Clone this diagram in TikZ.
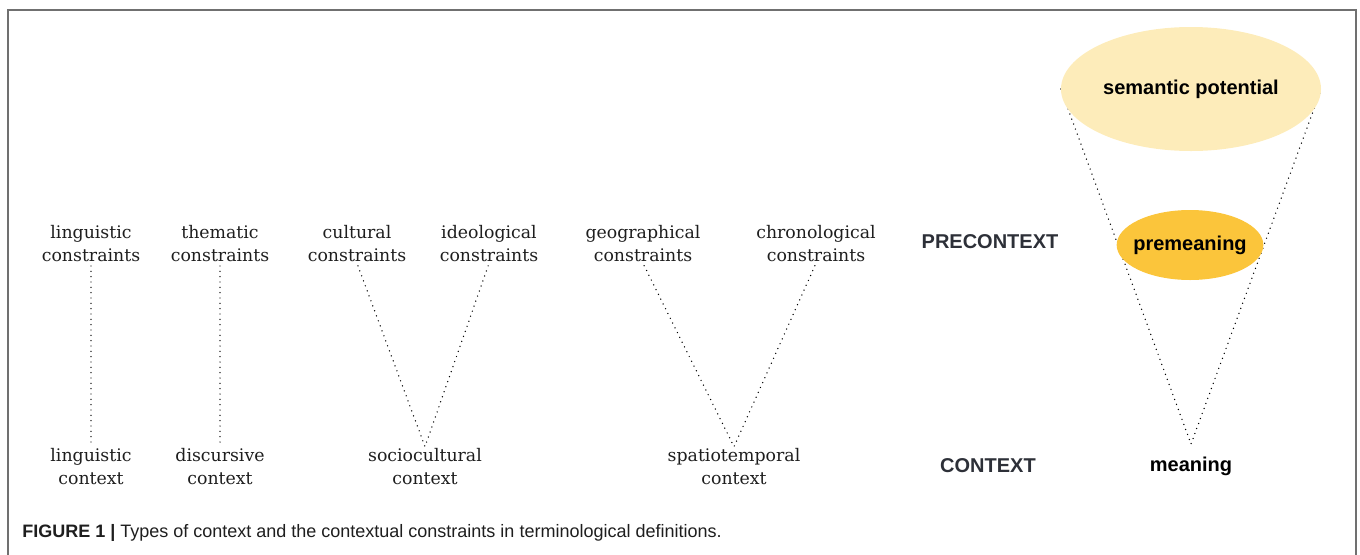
\documentclass[tikz,border=0pt]{standalone}
\usepackage{fontspec}
\setmainfont{DejaVu Serif}
\setsansfont{Liberation Sans}
\usetikzlibrary{positioning,shapes.geometric,backgrounds}
\definecolor{potfill}{HTML}{FDECBA}
\definecolor{prefill}{HTML}{FBC53B}
\definecolor{capsgray}{HTML}{2D3038}
\definecolor{framegray}{HTML}{707070}
\definecolor{inkgray}{HTML}{1E1E1E}
\tikzset{
    term/.style={align=center, text=inkgray, inner sep=1pt, font=\fontsize{13}{17.3}\selectfont},
    level/.style={text=capsgray, font=\sffamily\bfseries\fontsize{15}{18}\selectfont},
    blob/.style={ellipse, draw=none, inner xsep=-4pt, inner ysep=0pt, font=\sffamily\bfseries\fontsize{15}{18}\selectfont},
    link/.style={line width=1.1pt, line cap=round, dash pattern=on 0pt off 4pt, shorten <=2pt}
}

\begin{document}
\begin{tikzpicture}[x=0.75pt, y=-0.75pt]
			\useasboundingbox (0,0) rectangle (1360,554);
			\draw[framegray, line width=1.5pt] (8,560) -- (8,10) -- (1356,10) -- (1356,560);

			% upper row: constraints
			\node[term] (lin) at (91,243.5) {linguistic\\constraints};
			\node[term] (the) at (220,243.5) {thematic\\constraints};
			\node[term] (cul) at (357,243.5) {cultural\\constraints};
			\node[term] (ide) at (489,243.5) {ideological\\constraints};
			\node[term] (geo) at (643,243.5) {geographical\\constraints};
			\node[term] (chr) at (816,243.5) {chronological\\constraints};
			\node[level] (pre) at (990,242) {PRECONTEXT};

			% lower row: contexts
			\node[term] (lcx) at (91,466.5) {linguistic\\context};
			\node[term] (dis) at (220,466.5) {discursive\\context};
			\node[term] (soc) at (425,466.5) {sociocultural\\context};
			\node[term] (spa) at (734,466.5) {spatiotemporal\\context};
			\node[level] (ctx) at (988,466) {CONTEXT};

			% funnel
			\node[blob, fill=potfill, minimum width=195pt, minimum height=93pt] (sp) at (1191,89) {semantic potential};
			\node[blob, fill=prefill, minimum width=110pt, minimum height=52.5pt] (pm) at (1190,245) {premeaning};
			\node[level, text=black] (mean) at (1191,466) {meaning};
			\coordinate (tip) at (1191,444);

			\begin{pgfonlayer}{background}
			\draw[link] (lin) -- (lcx);
			\draw[link] (the) -- (dis);
			\draw[link] (cul.south) -- (soc.north);
			\draw[link] (ide.south) -- (soc.north);
			\draw[link] (geo.south) -- (spa.north);
			\draw[link] (chr.south) -- (spa.north);
			\draw[link, shorten <=0pt] (sp.west) -- (tip) -- (sp.east);
			\end{pgfonlayer}

			\node[anchor=west, text=inkgray, inner sep=0pt, font=\sffamily\fontsize{13.5}{16}\selectfont] (cap) at (22,533) {\textbf{FIGURE 1 |} Types of context and the contextual constraints in terminological definitions.};
		\end{tikzpicture}
\end{document}
